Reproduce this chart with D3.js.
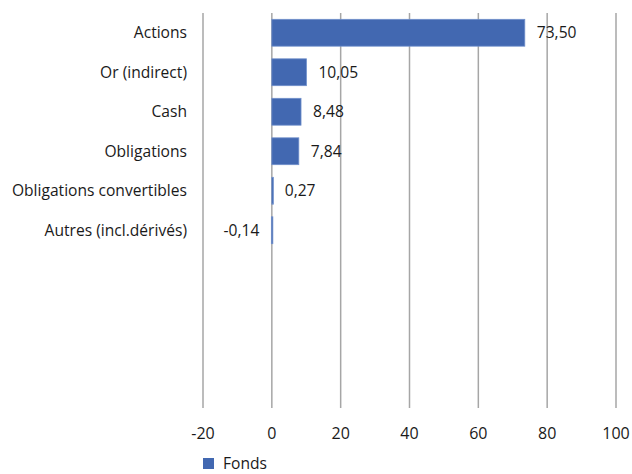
<!DOCTYPE html>
<html>
<head>
<meta charset="utf-8">
<script src="https://cdn.jsdelivr.net/npm/d3@7"></script>
<style>
  html, body { margin: 0; padding: 0; background: #fff; }
  svg text { font-family: "Open Sans", "Noto Sans", sans-serif; fill: #1a1a1a; }
</style>
</head>
<body>
<svg id="chart" width="632" height="474"></svg>
<script>
// Asset allocation of the fund (%), top to bottom
const categories = ["Actions", "Or (indirect)", "Cash", "Obligations", "Obligations convertibles", "Autres (incl.dérivés)", "", " ", "  ", "   "];
const values = [73.50, 10.05, 8.48, 7.84, 0.27, -0.14, null, null, null, null];
const xTicks = [-20, 0, 20, 40, 60, 80, 100];
const seriesName = "Fonds";

const svg = d3.select("#chart");
const margin = { top: 13, left: 203, right: 16, bottom: 66 };
const width = 632, height = 474;

const x = d3.scaleLinear().domain([-20, 100]).range([margin.left, width - margin.right]);
const y = d3.scaleBand().domain(categories).range([margin.top, height - margin.bottom]).paddingInner(0.32).paddingOuter(0.16);

const fmt = v => v.toFixed(2).replace(".", ",");

// vertical gridlines
svg.append("g")
  .selectAll("line")
  .data(xTicks)
  .join("line")
  .attr("x1", d => x(d)).attr("x2", d => x(d))
  .attr("y1", margin.top).attr("y2", height - margin.bottom)
  .attr("stroke", "#a6a6a6").attr("stroke-width", 1.5);

// x tick labels
svg.append("g")
  .selectAll("text")
  .data(xTicks)
  .join("text")
  .attr("x", d => x(d)).attr("y", 439)
  .attr("text-anchor", "middle")
  .attr("font-size", 16)
  .text(d => d);

const rows = categories.map((c, i) => ({ c, v: values[i] })).filter(d => d.v !== null);

// category labels
svg.append("g")
  .selectAll("text")
  .data(rows)
  .join("text")
  .attr("x", 187)
  .attr("y", d => y(d.c) + y.bandwidth() / 2)
  .attr("dy", "0.35em")
  .attr("text-anchor", "end")
  .attr("font-size", 15.6)
  .text(d => d.c);

// bars
svg.append("g")
  .selectAll("rect")
  .data(rows)
  .join("rect")
  .attr("x", d => Math.min(x(0), x(d.v)))
  .attr("y", d => y(d.c))
  .attr("width", d => Math.max(1.5, Math.abs(x(d.v) - x(0))))
  .attr("height", y.bandwidth())
  .attr("fill", "#4268b1")
  .attr("stroke", "#6f8fcb").attr("stroke-width", 0.8);

// value labels
svg.append("g")
  .selectAll("text")
  .data(rows)
  .join("text")
  .attr("x", d => d.v >= 0 ? x(d.v) + 12 : x(d.v) - 12)
  .attr("y", d => y(d.c) + y.bandwidth() / 2)
  .attr("dy", "0.35em")
  .attr("text-anchor", d => d.v >= 0 ? "start" : "end")
  .attr("font-size", 15.6)
  .text(d => fmt(d.v));

// legend
const legend = svg.append("g").attr("transform", "translate(203,458)");
legend.append("rect").attr("width", 11).attr("height", 11).attr("fill", "#4268b1");
legend.append("text").attr("x", 20).attr("y", 6).attr("dy", "0.35em").attr("font-size", 15.6).text(seriesName);
</script>
</body>
</html>
